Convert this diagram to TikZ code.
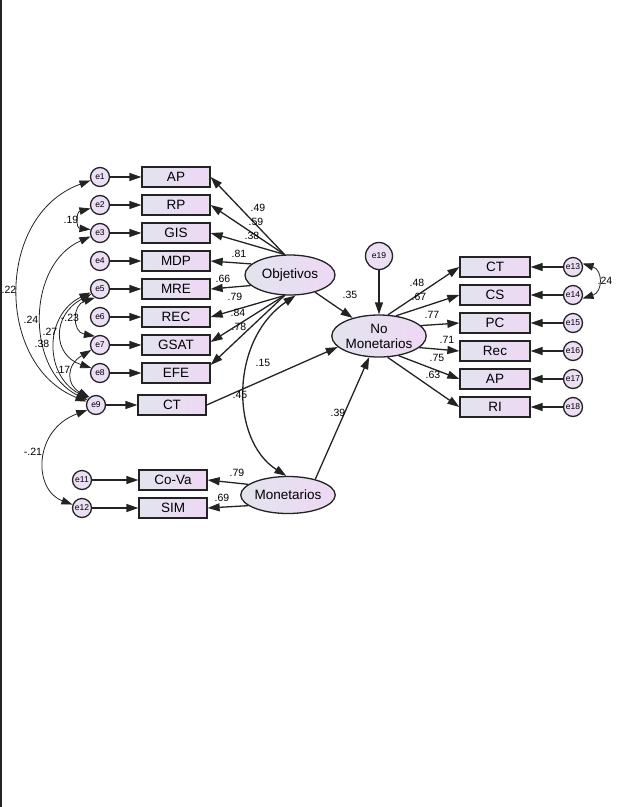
\documentclass[tikz,border=0pt]{standalone}
\usepackage{fontspec}
\setmainfont{Liberation Sans}
\usetikzlibrary{positioning}
\usetikzlibrary{arrows.meta,shapes.geometric}

\definecolor{fillL}{RGB}{226,228,238}
\definecolor{fillR}{RGB}{238,216,244}
\definecolor{errfill}{RGB}{236,222,244}
\definecolor{linegray}{RGB}{35,35,35}

\begin{document}
\begin{tikzpicture}[x=1pt,y=1pt,>={Triangle[length=12pt,width=8pt]},node distance=28pt,
                obs node/.style={rectangle,draw=linegray,line width=1.3pt,left color=fillL,right color=fillR,
                  minimum width=68pt,minimum height=20pt,inner sep=0pt,font=\fontsize{13.5}{15}\selectfont},
                lat node/.style={ellipse,draw=linegray,line width=1.3pt,left color=fillL,right color=fillR,
                  minimum width=90pt,minimum height=40pt,inner sep=0pt,align=center,font=\fontsize{13.5}{15}\selectfont},
                err node/.style={circle,draw=linegray,line width=1.3pt,fill=errfill,minimum size=19pt,
                  inner sep=0pt,font=\fontsize{8.5}{10}\selectfont},
                coef/.style={inner sep=0pt,font=\fontsize{10.5}{12}\selectfont},
                load/.style={->,line width=1.3pt,linegray},
                cov/.style={{Triangle[length=11pt,width=7.5pt]}-{Triangle[length=11pt,width=7.5pt]},line width=0.8pt,linegray}]

  \useasboundingbox (0,0) rectangle (624,-807);
  \draw[line width=1.5pt,linegray] (1,0) -- (1,-807);

  % Objetivos block
  \node[obs node] (ap) at (176,-177) {AP};
  \node[obs node] (rp) [below of=ap] {RP};
  \node[obs node] (gis) [below of=rp] {GIS};
  \node[obs node] (mdp) [below of=gis] {MDP};
  \node[obs node] (mre) [below of=mdp] {MRE};
  \node[obs node] (rec) [below of=mre] {REC};
  \node[obs node] (gsat) [below of=rec] {GSAT};
  \node[obs node] (efe) [below of=gsat] {EFE};
  \node[obs node] (ct) at (172,-405) {CT};

  \node[err node] (e1) [left of=ap, node distance=76pt] {e1};
  \node[err node] (e2) [left of=rp, node distance=76pt] {e2};
  \node[err node] (e3) [left of=gis, node distance=76pt] {e3};
  \node[err node] (e4) [left of=mdp, node distance=76pt] {e4};
  \node[err node] (e5) [left of=mre, node distance=76pt] {e5};
  \node[err node] (e6) [left of=rec, node distance=76pt] {e6};
  \node[err node] (e7) [left of=gsat, node distance=76pt] {e7};
  \node[err node] (e8) [left of=efe, node distance=76pt] {e8};
  \node[err node] (e9) [left of=ct, node distance=76pt] {e9};

  \node[lat node] (obj) at (290,-275) {Objetivos};
  \node[lat node, minimum width=92pt, minimum height=42pt] (nomon) at (379,-336) {No\\Monetarios};
  \node[err node, minimum size=27pt] (e19) [above of=nomon, node distance=80pt] {e19};
  \node[lat node, minimum height=37pt] (mon) at (288,-495) {Monetarios};

  % Monetarios block
  \node[obs node] (cova) at (173,-480) {Co-Va};
  \node[obs node] (sim) [below of=cova] {SIM};
  \node[err node] (e11) [left of=cova, node distance=91pt] {e11};
  \node[err node] (e12) [left of=sim, node distance=91pt] {e12};

  % No Monetarios block
  \node[obs node, minimum width=70pt] (ctr) at (495,-267) {CT};
  \node[obs node, minimum width=70pt] (csr) [below of=ctr] {CS};
  \node[obs node, minimum width=70pt] (pcr) [below of=csr] {PC};
  \node[obs node, minimum width=70pt] (recr) [below of=pcr] {Rec};
  \node[obs node, minimum width=70pt] (apr) [below of=recr] {AP};
  \node[obs node, minimum width=70pt] (rir) [below of=apr] {RI};

  \node[err node] (e13) [right of=ctr, node distance=78pt] {e13};
  \node[err node] (e14) [right of=csr, node distance=78pt] {e14};
  \node[err node] (e15) [right of=pcr, node distance=78pt] {e15};
  \node[err node] (e16) [right of=recr, node distance=78pt] {e16};
  \node[err node] (e17) [right of=apr, node distance=78pt] {e17};
  \node[err node] (e18) [right of=rir, node distance=78pt] {e18};

  \path[load]
    (e1) edge (ap)
    (e2) edge (rp)
    (e3) edge (gis)
    (e4) edge (mdp)
    (e5) edge (mre)
    (e6) edge (rec)
    (e7) edge (gsat)
    (e8) edge (efe)
    (e9) edge (ct)
    (e11) edge (cova)
    (e12) edge (sim)
    (e13) edge (ctr)
    (e14) edge (csr)
    (e15) edge (pcr)
    (e16) edge (recr)
    (e17) edge (apr)
    (e18) edge (rir)
    (e19) edge (nomon);

  \path[load]
    (obj.105) edge (ap.east)
              edge (rp.east)
              edge (gis.east)
    (obj.164) edge (mdp.east)
    (obj.195) edge (mre.east)
    (obj.255) edge (rec.east)
              edge ([yshift=3pt]gsat.east)
              edge ([yshift=8pt]efe.east)
    (obj) edge (nomon)
    (ct.east) edge (nomon.195)
    (mon.30) edge (nomon.245)
    (mon.165) edge (cova.east)
    (mon.195) edge (sim.east)
    (nomon.67) edge (ctr.west)
    (nomon.50) edge (csr.west)
    (nomon.14) edge (pcr.west)
    (nomon.344) edge (recr.west)
    (nomon.315) edge (apr.west)
    (nomon.292) edge (rir.west);

  % covariances
  \draw[cov] (e1.200) .. controls (-5,-215) and (-5,-365) .. (e9.160);
  \draw[cov] (e2.200) .. controls (76,-212) and (76,-228) .. (e3.160);
  \draw[cov] (e3.200) .. controls (26,-265) and (26,-370) .. (e9.150);
  \draw[cov] (e5.200) .. controls (44,-315) and (44,-375) .. (e9.140);
  \draw[cov] (e5.210) .. controls (52,-315) and (52,-355) .. (e8.150);
  \draw[cov] (e5.240) .. controls (72,-305) and (72,-332) .. (e7.120);
  \draw[cov] (e7.210) .. controls (66,-365) and (66,-385) .. (e9.130);
  \draw[cov] (e9.210) .. controls (33,-430) and (33,-490) .. (e12.160);
  \draw[cov] (e13.20) .. controls (603,-270) and (603,-292) .. (e14.340);
  \draw[<->,line width=1.3pt,linegray] (obj.285) .. controls (230,-340) and (230,-440) .. (mon.95);

  % coefficients
  \node[coef] (c1) at (258,-208) {.49};
  \node[coef] (c2) at (256,-222) {.59};
  \node[coef] (c3) at (252,-236) {.38};
  \node[coef] (c4) at (239,-254) {.81};
  \node[coef] (c5) at (223,-279) {.66};
  \node[coef] (c6) at (235,-297) {.79};
  \node[coef] (c7) at (238,-313) {.84};
  \node[coef] (c8) at (239,-327) {.78};
  \node[coef] (c9) at (350,-295) {.35};
  \node[coef] (c10) at (263,-363) {.15};
  \node[coef] (c11) at (240,-395) {.45};
  \node[coef] (c12) at (338,-413) {.39};
  \node[coef] (c13) at (237,-473) {.79};
  \node[coef] (c14) at (222,-498) {.69};
  \node[coef] (c15) at (417,-283) {.48};
  \node[coef] (c16) at (419,-297) {.67};
  \node[coef] (c17) at (432,-315) {.77};
  \node[coef] (c18) at (447,-340) {.71};
  \node[coef] (c19) at (437,-358) {.75};
  \node[coef] (c20) at (433,-375) {.63};
  \node[coef] (c21) at (605,-281) {.24};
  \node[coef] (c22) at (9,-290) {.22};
  \node[coef] (c23) at (71,-220) {.19};
  \node[coef] (c24) at (31,-320) {.24};
  \node[coef] (c25) at (50,-332) {.27};
  \node[coef] (c26) at (42,-344) {.38};
  \node[coef] (c27) at (70,-318) {-.23};
  \node[coef] (c28) at (63,-370) {.17};
  \node[coef] (c29) at (33,-452) {-.21};
\end{tikzpicture}
\end{document}
